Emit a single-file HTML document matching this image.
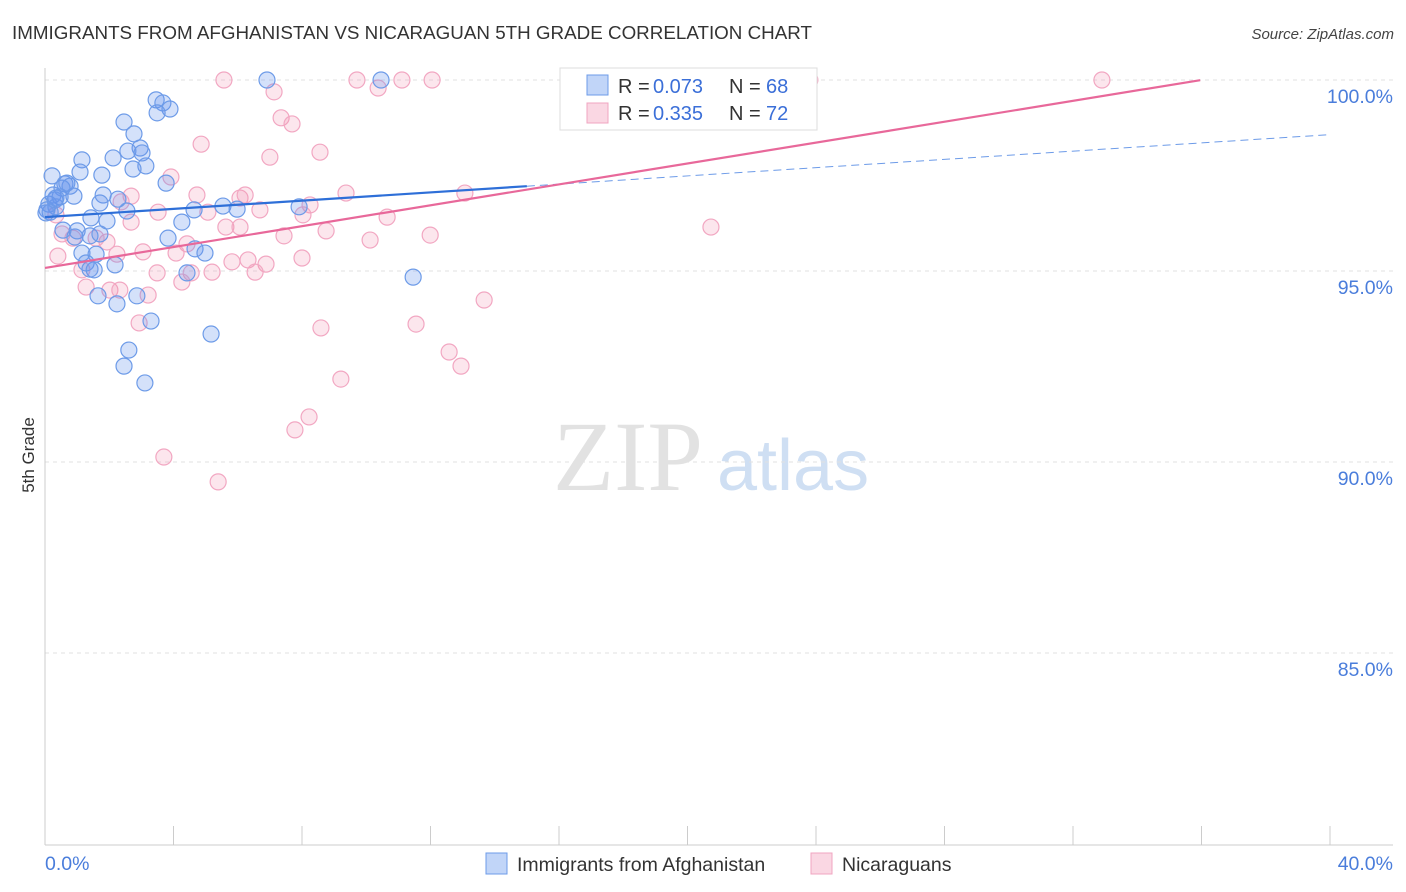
<!DOCTYPE html>
<html><head><meta charset="utf-8"><style>
body{margin:0;background:#fff;font-family:"Liberation Sans",sans-serif}
svg{display:block}
</style></head><body>
<svg width="1406" height="892" viewBox="0 0 1406 892">
<text x="12" y="39" font-size="18" fill="#333" textLength="800" lengthAdjust="spacingAndGlyphs">IMMIGRANTS FROM AFGHANISTAN VS NICARAGUAN 5TH GRADE CORRELATION CHART</text>
<text x="1394" y="39" font-size="15" fill="#444" font-style="italic" text-anchor="end">Source: ZipAtlas.com</text>
<g>
<text x="553" y="490" font-family="Liberation Serif,serif" font-size="100" fill="#e2e2e2">ZIP</text>
<text x="717" y="490" font-size="72" fill="#cfdff3">atlas</text>
</g>
<g id="grid"></g>
<g id="axes"></g>
<g id="marks"></g>
<text transform="translate(34,455) rotate(-90)" font-size="17" fill="#333" text-anchor="middle">5th Grade</text>
<g>
<rect x="560" y="68" width="257" height="62" fill="#fff" stroke="#ddd"/>
<rect x="587" y="75" width="21" height="20" fill="rgba(100,149,237,0.4)" stroke="#6d9be8"/>
<rect x="587" y="103" width="21" height="20" fill="rgba(240,140,175,0.35)" stroke="#f0a5c0"/>
<text x="618" y="93" font-size="20" fill="#333">R =</text><text x="653" y="93" font-size="20" fill="#3b6fd8">0.073</text>
<text x="729" y="93" font-size="20" fill="#333">N =</text><text x="766" y="93" font-size="20" fill="#3b6fd8">68</text>
<text x="618" y="120" font-size="20" fill="#333">R =</text><text x="653" y="120" font-size="20" fill="#3b6fd8">0.335</text>
<text x="729" y="120" font-size="20" fill="#333">N =</text><text x="766" y="120" font-size="20" fill="#3b6fd8">72</text>
</g>
<g>
<rect x="486" y="853" width="21" height="21" fill="rgba(100,149,237,0.4)" stroke="#6d9be8"/>
<text x="517" y="871" font-size="19.5" fill="#333">Immigrants from Afghanistan</text>
<rect x="811" y="853" width="21" height="21" fill="rgba(240,140,175,0.35)" stroke="#f0a5c0"/>
<text x="842" y="871" font-size="19.5" fill="#333">Nicaraguans</text>
</g>
</svg>
<script>
const blueX=[6.91,10.46,3.46,3.67,3.89,3.49,2.46,2.77,2.96,2.58,3.02,2.12,3.14,1.15,2.74,1.09,1.77,0.22,0.62,0.78,0.53,3.77,0.25,0.90,1.81,2.27,0.47,0.12,0.34,0.06,2.55,4.64,5.54,5.98,7.91,1.43,1.93,4.26,1.00,1.40,1.71,3.83,1.15,1.59,4.67,4.98,1.28,2.18,1.53,4.42,11.46,1.65,2.86,2.24,3.30,5.17,2.61,2.46,3.11,0.16,0.31,0.68,0.93,1.71,0.56,1.40,0.34,0.03];
const blueY=[100,100,99.48,99.40,99.24,99.14,98.90,98.59,98.22,98.14,98.09,97.96,97.75,97.91,97.67,97.59,97.51,97.49,97.28,97.22,97.17,97.30,96.99,96.96,96.99,96.88,96.94,96.75,96.68,96.60,96.57,96.60,96.70,96.62,96.68,96.39,96.31,96.28,96.05,95.92,95.97,95.86,95.47,95.44,95.58,95.47,95.21,95.16,95.03,94.95,94.84,94.35,94.35,94.14,93.69,93.35,92.93,92.51,92.07,96.54,96.86,97.30,95.89,96.78,96.07,95.05,96.91,96.52];
const pinkX=[5.57,9.71,11.11,12.05,16.87,20.98,23.81,32.90,10.37,7.13,7.35,7.69,4.86,8.56,7.00,3.92,9.37,13.07,4.73,2.68,6.07,2.37,8.25,3.52,5.07,6.69,10.65,8.03,5.63,6.07,20.73,8.75,7.44,11.99,0.53,0.87,1.93,1.59,4.42,3.05,2.24,4.08,0.40,5.82,6.32,6.88,1.15,3.49,4.55,5.20,6.54,4.26,1.28,2.02,3.21,13.67,2.93,8.59,11.55,12.58,12.95,9.21,8.22,7.78,3.70,5.39,0.34,6.23,2.68,8.00,2.33,10.12];
const pinkY=[100,100,100,100,100,100,100,100,99.79,99.69,99.01,98.85,98.32,98.11,97.98,97.46,97.04,97.04,96.99,96.96,96.91,96.81,96.73,96.54,96.54,96.60,96.41,96.47,96.15,96.15,96.15,96.05,95.92,95.94,95.97,95.86,95.76,95.86,95.71,95.50,95.44,95.47,95.39,95.24,95.29,95.18,95.03,94.95,94.95,94.97,94.97,94.71,94.58,94.50,94.37,94.24,93.64,93.51,93.61,92.88,92.51,92.17,91.18,90.84,90.13,89.48,96.47,96.99,96.28,95.34,94.50,95.81];
const blueTrend=[96.41,0.054];
const blueSolidEnd=[15];
const pinkTrend=[95.08,0.1367];
const pinkEnd=[35.96];
const yTicks=[100,95,90,85];
const yTickLabels=["100.0%","95.0%","90.0%","85.0%"];
const xTicks=[0,4,8,12,16,20,24,28,32,36,40];
const xEnds=["0.0%","40.0%"];
const NS="http://www.w3.org/2000/svg";
const xs=v=>45+v*(1285/40);
const ys=v=>80+(100-v)*38.2;
function mk(tag,attrs,parent){const e=document.createElementNS(NS,tag);for(const k in attrs)e.setAttribute(k,attrs[k]);document.getElementById(parent).appendChild(e);return e;}
yTicks.forEach((t,i)=>{
 const l=mk('line',{x1:45,x2:1393,y1:ys(t),y2:ys(t),stroke:'#e2e2e2','stroke-dasharray':'4,4'},'grid');
 
 
 const tx=mk('text',{x:1393,y:ys(t)+23,'font-size':19.5,fill:'#4a7ddb','text-anchor':'end'},'grid');
 tx.textContent=yTickLabels[i];
 
 
});
let a=mk('line',{x1:45,x2:45,y1:68,y2:845,stroke:'#ccc'},'axes');


a=mk('line',{x1:45,x2:1393,y1:845,y2:845,stroke:'#ccc'},'axes');


xTicks.forEach(t=>{const l=mk('line',{x1:xs(t),x2:xs(t),y1:826,y2:845,stroke:'#ccc'},'axes');
 
 });
let t0=mk('text',{x:45,y:870,'font-size':19.5,fill:'#4a7ddb'},'axes');t0.textContent=xEnds[0];


let t1=mk('text',{x:1393,y:870,'font-size':19.5,fill:'#4a7ddb','text-anchor':'end'},'axes');t1.textContent=xEnds[1];


pinkX.forEach((x,i)=>{const c=mk('circle',{cx:xs(x),cy:ys(pinkY[i]),r:8,fill:'rgba(240,140,175,0.22)',stroke:'#f2a7c2','stroke-width':1.2},'marks');
 
 });
blueX.forEach((x,i)=>{const c=mk('circle',{cx:xs(x),cy:ys(blueY[i]),r:8,fill:'rgba(100,149,237,0.28)',stroke:'#6d9be8','stroke-width':1.2},'marks');
 
 });
const bf=v=>blueTrend[0]+blueTrend[1]*v, pf=v=>pinkTrend[0]+pinkTrend[1]*v;
let l=mk('line',{x1:xs(blueSolidEnd[0]),y1:ys(bf(blueSolidEnd[0])),x2:xs(40),y2:ys(bf(40)),stroke:'#6d9be8','stroke-width':1,'stroke-dasharray':'8,5'},'marks');


l=mk('line',{x1:xs(0),y1:ys(bf(0)),x2:xs(blueSolidEnd[0]),y2:ys(bf(blueSolidEnd[0])),stroke:'#2e6fd8','stroke-width':2.2},'marks');


l=mk('line',{x1:xs(0),y1:ys(pf(0)),x2:xs(pinkEnd[0]),y2:ys(pf(pinkEnd[0])),stroke:'#e8689a','stroke-width':2.2},'marks');


</script>
</body></html>
